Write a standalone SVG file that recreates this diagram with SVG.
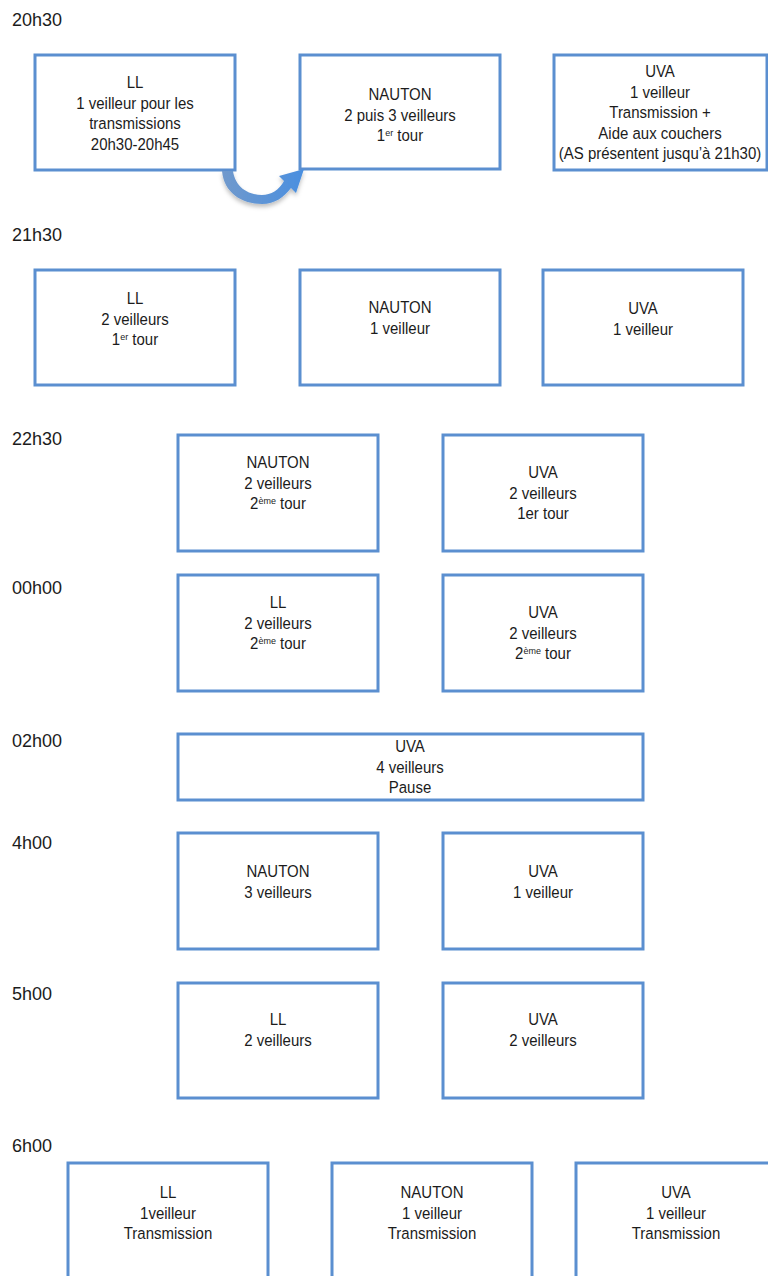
<svg xmlns="http://www.w3.org/2000/svg" width="768" height="1276" viewBox="0 0 768 1276">
<style>
.box{fill:#fff;stroke:#5b8fd0;stroke-width:3}
.t{font-family:"Liberation Sans",Arial,sans-serif;font-size:15px;fill:#1c1c1c;text-anchor:middle}
.lbl{font-family:"Liberation Sans",Arial,sans-serif;font-size:18px;fill:#1c1c1c}
.sup{font-size:9px}
</style>
<defs>
<linearGradient id="ag" x1="0" y1="0" x2="1" y2="0">
<stop offset="0" stop-color="#7099cc"/>
<stop offset="1" stop-color="#4a8fe0"/>
</linearGradient>
<filter id="sh" x="-20%" y="-20%" width="140%" height="160%">
<feDropShadow dx="0" dy="3" stdDeviation="2" flood-color="#000" flood-opacity="0.25"/>
</filter>
</defs>
<rect width="768" height="1276" fill="#fff"/>

<g id="labels">
<text class="lbl" x="12" y="26">20h30</text>
<text class="lbl" x="12" y="241">21h30</text>
<text class="lbl" x="12" y="445">22h30</text>
<text class="lbl" x="12" y="594">00h00</text>
<text class="lbl" x="12" y="747">02h00</text>
<text class="lbl" x="12" y="849">4h00</text>
<text class="lbl" x="12" y="1000">5h00</text>
<text class="lbl" x="12" y="1152">6h00</text>
</g>

<g id="r1-ll">
<rect class="box" x="35" y="55" width="200" height="115"/>
<text class="t" transform="translate(135,88) scale(1,1.1)"><tspan x="0" y="0">LL</tspan><tspan x="0" dy="18.7">1 veilleur pour les</tspan><tspan x="0" dy="18.7">transmissions</tspan><tspan x="0" dy="18.7">20h30-20h45</tspan></text>
</g>
<g id="r1-nauton">
<rect class="box" x="300" y="55" width="200" height="114"/>
<text class="t" transform="translate(400,100) scale(1,1.1)"><tspan x="0" y="0">NAUTON</tspan><tspan x="0" dy="18.7">2 puis 3 veilleurs</tspan><tspan x="0" dy="18.7">1</tspan><tspan class="sup" dy="-5">er</tspan><tspan dy="5"> tour</tspan></text>
</g>
<g id="r1-uva">
<rect class="box" x="554" y="55" width="213" height="115"/>
<text class="t" transform="translate(660,77) scale(1,1.1)"><tspan x="0" y="0">UVA</tspan><tspan x="0" dy="18.7">1 veilleur</tspan><tspan x="0" dy="18.7">Transmission +</tspan><tspan x="0" dy="18.7">Aide aux couchers</tspan><tspan x="0" dy="18.7">(AS présentent jusqu’à 21h30)</tspan></text>
</g>

<g id="r2-ll">
<rect class="box" x="35" y="270" width="200" height="115"/>
<text class="t" transform="translate(135,304) scale(1,1.1)"><tspan x="0" y="0">LL</tspan><tspan x="0" dy="18.7">2 veilleurs</tspan><tspan x="0" dy="18.7">1</tspan><tspan class="sup" dy="-5">er</tspan><tspan dy="5"> tour</tspan></text>
</g>
<g id="r2-nauton">
<rect class="box" x="300" y="270" width="200" height="115"/>
<text class="t" transform="translate(400,313) scale(1,1.1)"><tspan x="0" y="0">NAUTON</tspan><tspan x="0" dy="18.7">1 veilleur</tspan></text>
</g>
<g id="r2-uva">
<rect class="box" x="543" y="270" width="200" height="115"/>
<text class="t" transform="translate(643,314) scale(1,1.1)"><tspan x="0" y="0">UVA</tspan><tspan x="0" dy="18.7">1 veilleur</tspan></text>
</g>

<g id="r3-nauton">
<rect class="box" x="178" y="435" width="200" height="116"/>
<text class="t" transform="translate(278,468) scale(1,1.1)"><tspan x="0" y="0">NAUTON</tspan><tspan x="0" dy="18.7">2 veilleurs</tspan><tspan x="0" dy="18.7">2</tspan><tspan class="sup" dy="-5">ème</tspan><tspan dy="5"> tour</tspan></text>
</g>
<g id="r3-uva">
<rect class="box" x="443" y="435" width="200" height="116"/>
<text class="t" transform="translate(543,478) scale(1,1.1)"><tspan x="0" y="0">UVA</tspan><tspan x="0" dy="18.7">2 veilleurs</tspan><tspan x="0" dy="18.7">1er tour</tspan></text>
</g>

<g id="r4-ll">
<rect class="box" x="178" y="575" width="200" height="116"/>
<text class="t" transform="translate(278,608) scale(1,1.1)"><tspan x="0" y="0">LL</tspan><tspan x="0" dy="18.7">2 veilleurs</tspan><tspan x="0" dy="18.7">2</tspan><tspan class="sup" dy="-5">ème</tspan><tspan dy="5"> tour</tspan></text>
</g>
<g id="r4-uva">
<rect class="box" x="443" y="575" width="200" height="116"/>
<text class="t" transform="translate(543,618) scale(1,1.1)"><tspan x="0" y="0">UVA</tspan><tspan x="0" dy="18.7">2 veilleurs</tspan><tspan x="0" dy="18.7">2</tspan><tspan class="sup" dy="-5">ème</tspan><tspan dy="5"> tour</tspan></text>
</g>

<g id="r5-uva">
<rect class="box" x="178" y="734" width="465" height="66"/>
<text class="t" transform="translate(410,752) scale(1,1.1)"><tspan x="0" y="0">UVA</tspan><tspan x="0" dy="18.7">4 veilleurs</tspan><tspan x="0" dy="18.7">Pause</tspan></text>
</g>

<g id="r6-nauton">
<rect class="box" x="178" y="833" width="200" height="116"/>
<text class="t" transform="translate(278,877) scale(1,1.1)"><tspan x="0" y="0">NAUTON</tspan><tspan x="0" dy="18.7">3 veilleurs</tspan></text>
</g>
<g id="r6-uva">
<rect class="box" x="443" y="833" width="200" height="116"/>
<text class="t" transform="translate(543,877) scale(1,1.1)"><tspan x="0" y="0">UVA</tspan><tspan x="0" dy="18.7">1 veilleur</tspan></text>
</g>

<g id="r7-ll">
<rect class="box" x="178" y="983" width="200" height="115"/>
<text class="t" transform="translate(278,1025) scale(1,1.1)"><tspan x="0" y="0">LL</tspan><tspan x="0" dy="18.7">2 veilleurs</tspan></text>
</g>
<g id="r7-uva">
<rect class="box" x="443" y="983" width="200" height="115"/>
<text class="t" transform="translate(543,1025) scale(1,1.1)"><tspan x="0" y="0">UVA</tspan><tspan x="0" dy="18.7">2 veilleurs</tspan></text>
</g>

<g id="r8-ll">
<rect class="box" x="68" y="1163" width="200" height="130"/>
<text class="t" transform="translate(168,1198) scale(1,1.1)"><tspan x="0" y="0">LL</tspan><tspan x="0" dy="18.7">1veilleur</tspan><tspan x="0" dy="18.7">Transmission</tspan></text>
</g>
<g id="r8-nauton">
<rect class="box" x="332" y="1163" width="200" height="130"/>
<text class="t" transform="translate(432,1198) scale(1,1.1)"><tspan x="0" y="0">NAUTON</tspan><tspan x="0" dy="18.7">1 veilleur</tspan><tspan x="0" dy="18.7">Transmission</tspan></text>
</g>
<g id="r8-uva">
<rect class="box" x="576" y="1163" width="210" height="130"/>
<text class="t" transform="translate(676,1198) scale(1,1.1)"><tspan x="0" y="0">UVA</tspan><tspan x="0" dy="18.7">1 veilleur</tspan><tspan x="0" dy="18.7">Transmission</tspan></text>
</g>

<g id="connectors">
<path filter="url(#sh)" fill="url(#ag)" d="M222,171 C224,193 242,204 262,204 C275,204 284,197 291,188 L296,193 L304,169 L279,176 L284,181 C279,190 271,195 262,195 C247,195 235,186 233,171 Z"/>
</g>
</svg>
